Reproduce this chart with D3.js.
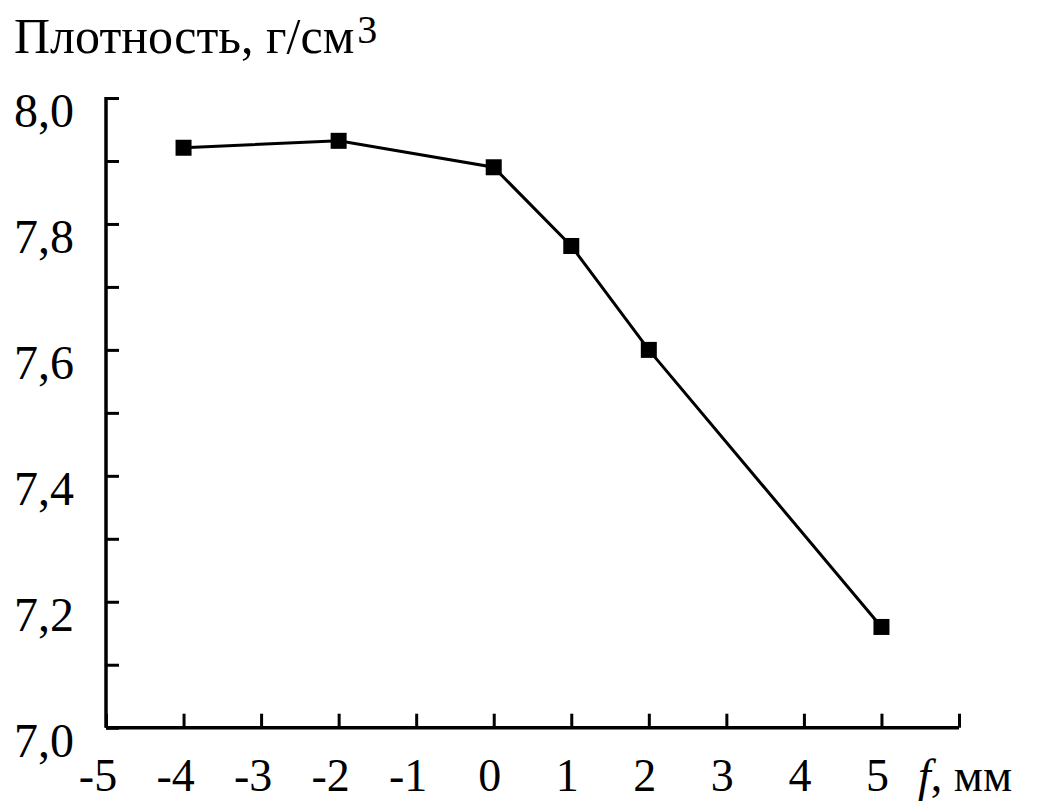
<!DOCTYPE html>
<html><head><meta charset="utf-8">
<script src="https://cdn.jsdelivr.net/npm/d3@7"></script>
<style>body{margin:0;background:#fff}svg{display:block}</style>
</head><body>
<script>
const xValues = [-4, -2, 0, 1, 2, 5];
const densityValues = [7.921, 7.932, 7.890, 7.765, 7.600, 7.160];
const xTickValues = [-5, -4, -3, -2, -1, 0, 1, 2, 3, 4, 5, 6];
const xTickLabels = ["-5", "-4", "-3", "-2", "-1", "0", "1", "2", "3", "4", "5"];
const yTickValues = [7.0, 7.1, 7.2, 7.3, 7.4, 7.5, 7.6, 7.7, 7.8, 7.9, 8.0];
const yTickLabels = ["7,0", "7,2", "7,4", "7,6", "7,8", "8,0"];
const yLabelValues = [7.0, 7.2, 7.4, 7.6, 7.8, 8.0];
const yTitle = "Плотность, г/см";
const xTitleItalic = "f";
const xTitleRest = ", мм";

const W = 1044, H = 803;
const svg = d3.select("body").append("svg").attr("width", W).attr("height", H);
const x = d3.scaleLinear().domain([-5, 6]).range([106, 959]);
const y = d3.scaleLinear().domain([7.0, 8.0]).range([727.7, 98]);
const font = "'Liberation Serif', 'Times New Roman', serif";

// axes lines
const xAxis = d3.axisBottom(x).tickValues(xTickValues).tickSize(-14).tickFormat("");
const gx = svg.append("g").attr("transform", `translate(0,${y(7.0)})`).call(xAxis);
gx.select(".domain").attr("d", `M${x(-5)},0H${x(6)}`).attr("stroke", "#000").attr("stroke-width", 3.5);
gx.selectAll(".tick line").attr("stroke", "#000").attr("stroke-width", 3);

const yAxis = d3.axisLeft(y).tickValues(yTickValues).tickSize(-13).tickFormat("");
const gy = svg.append("g").attr("transform", `translate(${x(-5)},0)`).call(yAxis);
gy.select(".domain").attr("d", `M0,${y(8.0)-1}V${y(7.0)}`).attr("stroke", "#000").attr("stroke-width", 3.5);
gy.selectAll(".tick line").attr("stroke", "#000").attr("stroke-width", 3);

// x tick labels
svg.append("g").selectAll("text").data(xTickLabels).join("text")
  .attr("x", d => x(+d) - (d.startsWith("-") ? 8 : 4))
  .attr("y", 791)
  .attr("text-anchor", "middle")
  .attr("font-family", font).attr("font-size", 46)
  .text(d => d);

// y tick labels
svg.append("g").selectAll("text").data(yLabelValues).join("text")
  .attr("x", 74)
  .attr("y", d => y(d) + 29)
  .attr("text-anchor", "end")
  .attr("font-family", font).attr("font-size", 48)
  .text((d, i) => yTickLabels[i]);

// y title
const t = svg.append("text").attr("x", 14).attr("y", 53)
  .attr("font-family", font).attr("font-size", 50);
t.append("tspan").text(yTitle);
t.append("tspan").attr("font-size", 40).attr("dy", -10).attr("dx", 3).text("3");

// x title
const xt = svg.append("text").attr("x", 918).attr("y", 791)
  .attr("font-family", font).attr("font-size", 46);
xt.append("tspan").attr("font-style", "italic").text(xTitleItalic);
xt.append("tspan").text(xTitleRest);

// line
const pts = xValues.map((v, i) => [v, densityValues[i]]);
svg.append("path").datum(pts)
  .attr("fill", "none").attr("stroke", "#000").attr("stroke-width", 3)
  .attr("d", d3.line().x(d => x(d[0])).y(d => y(d[1])));

svg.append("g").selectAll("rect").data(pts).join("rect")
  .attr("x", d => x(d[0]) - 8).attr("y", d => y(d[1]) - 8)
  .attr("width", 16).attr("height", 16).attr("fill", "#000");
</script>
</body></html>
